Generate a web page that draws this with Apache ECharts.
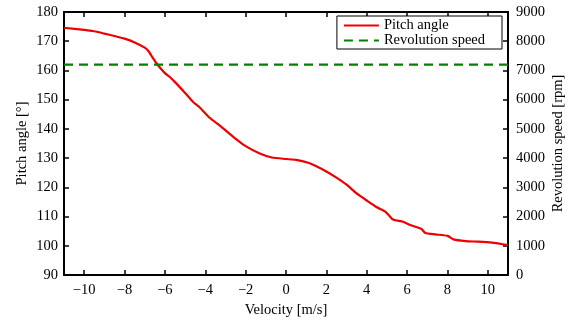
<!DOCTYPE html>
<html lang="en">
<head>
    <meta charset="UTF-8">
    <title>Pitch angle / Revolution speed</title>
    <script src="https://cdn.jsdelivr.net/npm/echarts@6/dist/echarts.min.js"></script>
    <style>
        body { margin: 0; background: #ffffff; }
        #chart { width: 575px; height: 323px; }
    </style>
</head>
<body>
<div id="chart"></div>
<script>
    // 数据
    var velocity = [-11, -10, -9.5, -9, -8.5, -8, -7.5, -7, -6.8, -6.6, -6.4, -6.2, -6, -5.8, -5.5, -5, -4.6, -4.3, -3.8, -3.2, -2.6, -2, -1.3, -0.7, 0, 0.5, 1.1, 1.5, 2, 2.5, 3, 3.5, 4, 4.5, 4.9, 5.1, 5.3, 5.8, 6.2, 6.7, 6.9, 7.4, 8, 8.3, 8.9, 9.5, 10.2, 10.5, 11];
    var pitchAngle = [174.6, 173.9, 173.4, 172.6, 171.8, 170.9, 169.6, 167.8, 166.5, 164.3, 162.3, 160.6, 159.1, 158, 156, 152.3, 149.2, 147.5, 143.9, 140.7, 137.2, 134.1, 131.6, 130.2, 129.7, 129.4, 128.4, 127.2, 125.4, 123.3, 120.9, 117.9, 115.5, 113.2, 111.8, 110.4, 109, 108.2, 107, 105.8, 104.4, 103.9, 103.4, 102.2, 101.6, 101.4, 101.1, 100.8, 100.2];
    var speedX = [-11, 11];
    var revolutionSpeed = [7200, 7200];
    var xTicks = [-10, -8, -6, -4, -2, 0, 2, 4, 6, 8, 10];

    var pitchData = velocity.map(function (v, i) { return [v, pitchAngle[i]]; });
    var speedData = speedX.map(function (v, i) { return [v, revolutionSpeed[i]]; });

    var font = 'Liberation Serif';
    var fs = 14.5;
    var axisLine = { show: true, onZero: false, lineStyle: { color: '#000', width: 2 } };
    var axisTick = { show: true, inside: true, length: 5, lineStyle: { color: '#000', width: 1.5 } };
    var xTick = { show: true, inside: true, length: 5, customValues: xTicks, lineStyle: { color: '#000', width: 1.5 } };
    var nameStyle = { fontFamily: font, fontSize: fs, color: '#000' };

    var chart = echarts.init(document.getElementById('chart'));
    var option = {
        backgroundColor: '#ffffff',
        animation: false,
        textStyle: { fontFamily: font },
        grid: { left: 64, right: 67, top: 12, bottom: 48 },
        legend: {
            orient: 'vertical',
            right: 73,
            top: 16,
            padding: [2, 17, 1, 6],
            itemWidth: 35,
            itemHeight: 14,
            itemGap: 0,
            borderColor: '#000',
            borderWidth: 1,
            backgroundColor: '#fff',
            itemStyle: { opacity: 0 },
            textStyle: { fontFamily: font, fontSize: fs, color: '#000', lineHeight: 14 },
            data: ['Pitch angle', 'Revolution speed']
        },
        xAxis: [{
            type: 'value',
            min: -11,
            max: 11,
            name: 'Velocity [m/s]',
            nameLocation: 'middle',
            nameGap: 21,
            nameTextStyle: nameStyle,
            axisLine: axisLine,
            axisTick: xTick,
            axisLabel: {
                customValues: xTicks,
                fontFamily: font, fontSize: fs, color: '#000', margin: 8,
                formatter: function (v) { return String(v).replace('-', '\u2212'); }
            },
            splitLine: { show: false }
        }, {
            type: 'value',
            position: 'top',
            min: -11,
            max: 11,
            axisLine: axisLine,
            axisTick: xTick,
            axisLabel: { show: false },
            splitLine: { show: false }
        }],
        yAxis: [{
            type: 'value',
            min: 90,
            max: 180,
            interval: 10,
            name: 'Pitch angle [°]',
            nameLocation: 'middle',
            nameGap: 34,
            nameMoveOverlap: false,
            nameTextStyle: nameStyle,
            axisLine: axisLine,
            axisTick: axisTick,
            axisLabel: { fontFamily: font, fontSize: fs, color: '#000', margin: 6 },
            splitLine: { show: false }
        }, {
            type: 'value',
            position: 'right',
            min: 0,
            max: 9000,
            interval: 1000,
            name: 'Revolution speed [rpm]',
            nameLocation: 'middle',
            nameGap: 43,
            nameMoveOverlap: false,
            nameTextStyle: nameStyle,
            axisLine: axisLine,
            axisTick: axisTick,
            axisLabel: {
                fontFamily: font, fontSize: fs, color: '#000', margin: 8,
                formatter: function (v) { return String(v); }
            },
            splitLine: { show: false }
        }],
        series: [{
            name: 'Pitch angle',
            type: 'line',
            xAxisIndex: 0,
            yAxisIndex: 0,
            symbol: 'none',
            smooth: 0.2,
            data: pitchData,
            itemStyle: { color: '#ee0000' },
            lineStyle: { color: '#ee0000', width: 2.2 }
        }, {
            name: 'Revolution speed',
            type: 'line',
            xAxisIndex: 0,
            yAxisIndex: 1,
            symbol: 'none',
            data: speedData,
            itemStyle: { color: '#008000' },
            lineStyle: { color: '#008000', width: 2.2, type: [9, 6] }
        }]
    };
    chart.setOption(option);
</script>
</body>
</html>
